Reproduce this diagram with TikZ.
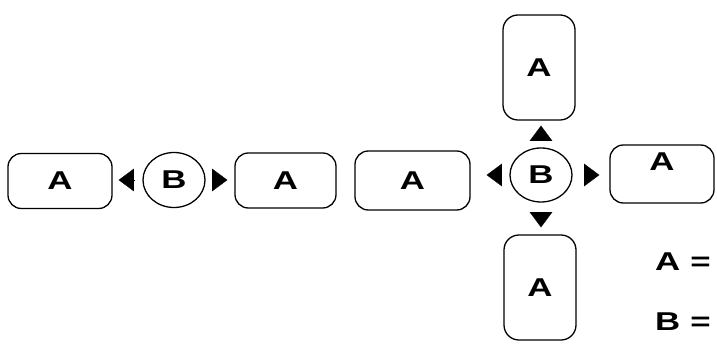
\documentclass[tikz,border=0pt]{standalone}
\usepackage{fontspec}
\newfontfamily\labelfont{Liberation Sans}[FakeStretch=1.35]
\usetikzlibrary{shapes.geometric,arrows.meta}

\begin{document}
\begin{tikzpicture}[
  x=0.03cm, y=-0.03cm,
  every node/.style={font=\labelfont\bfseries\fontsize{22}{24}\selectfont},
  hbox/.style={draw, line width=1.1pt, rounded corners=0.4cm, minimum width=3.12cm, minimum height=1.65cm},
  vbox/.style={draw, line width=1.1pt, rounded corners=0.45cm, minimum width=2.16cm, minimum height=3.15cm},
  joint/.style={draw, ellipse, line width=1.1pt, inner sep=0pt, minimum width=1.86cm, minimum height=1.65cm},
  pointer/.style={line width=0.2pt, -{Triangle[length=0.46cm, width=0.68cm]}}
]
\clip (0,0) rectangle (717,345);
% left pair
\node[hbox] (a1) at (60,181) {A};
\node[joint] (b1) at (174,180) {B};
\node[hbox, minimum width=3.03cm] (a2) at (285.5,180.5) {A};
\draw[pointer, shorten <=0.24cm, shorten >=0.18cm] (b1.west) -- (b1.west -| a1.east);
\draw[pointer, shorten <=0.21cm, shorten >=0.21cm] (b1.east) -- (b1.east -| a2.west);
% cross
\node[hbox, minimum width=3.45cm, minimum height=1.77cm] (a3) at (412.5,180.5) {A};
\node[joint, minimum height=1.62cm] (b2) at (541,175) {B};
\node[hbox, minimum height=1.74cm, text depth=0.72cm] (a4) at (662,174) {A};
\node[vbox] (up) at (539,67.5) {A};
\node[vbox] (dn) at (540,287.5) {A};
\draw[pointer, shorten <=0.24cm, shorten >=0.48cm] (b2.west) -- (b2.west -| a3.east);
\draw[pointer, shorten <=0.33cm, shorten >=0.30cm] (b2.east) -- (b2.east -| a4.west);
\draw[pointer, shorten <=0.24cm, shorten >=0.15cm] (b2.north) -- (b2.north |- up.south);
\draw[pointer, shorten <=0.36cm, shorten >=0.21cm] (b2.south) -- (b2.south |- dn.north);
% key
\node[anchor=west, inner sep=0pt] (keya) at (655,262) {A\hspace{0.3cm}=};
\node[anchor=west, inner sep=0pt] (keyb) at (655,322) {B\hspace{0.3cm}=};
\end{tikzpicture}
\end{document}
